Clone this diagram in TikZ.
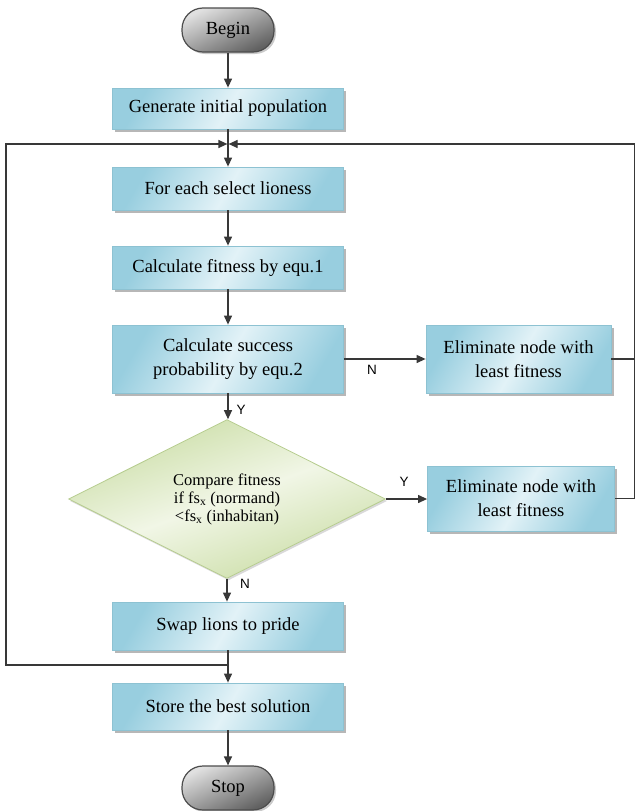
\documentclass[tikz,border=0pt]{standalone}
\usepackage{fontspec}
\setmainfont{Liberation Serif}
\newfontfamily\boxfont{Liberation Serif}
\newfontfamily\labelfont{Liberation Sans}
\usetikzlibrary{shapes.geometric,shadows,arrows.meta}
\definecolor{boxA}{HTML}{98CEDF}
\definecolor{boxB}{HTML}{E2F2F7}
\definecolor{boxLine}{HTML}{8DC2D2}
\definecolor{grnA}{HTML}{CADDA5}
\definecolor{grnB}{HTML}{F1F6E6}
\definecolor{grnLine}{HTML}{B7CD90}
\definecolor{lineC}{HTML}{383838}
\tikzset{
  procbox/.style={rectangle, draw=boxLine, line width=0.8pt,
    top color=boxA, bottom color=boxA, middle color=boxB, shading angle=60,
    drop shadow={shadow xshift=2.5pt, shadow yshift=-2.5pt, fill=black!40, opacity=0.7},
    align=center, inner sep=0pt, font=\boxfont\fontsize{18.5}{24}\selectfont,
    minimum width=231pt},
  termbox/.style={rectangle, rounded corners=21pt, draw=black!70, line width=1.2pt,
    top color=black!12, bottom color=black!62, shading angle=25,
    drop shadow={shadow xshift=2pt, shadow yshift=-2pt, fill=black!35, opacity=0.6},
    inner sep=0pt, minimum width=92pt, minimum height=44pt,
    font=\boxfont\fontsize{18.5}{22}\selectfont},
  decision/.style={diamond, draw=grnLine, line width=0.8pt,
    top color=grnA, bottom color=grnA, middle color=grnB, shading angle=20,
    drop shadow={shadow xshift=1.5pt, shadow yshift=-2pt, fill=black!25, opacity=0.6},
    inner sep=0pt, minimum width=317pt, minimum height=142pt, align=center,
    font=\boxfont\fontsize{16.5}{18}\selectfont},
  ln/.style={draw=lineC, line width=1.2pt},
  arr/.style={ln, -{Triangle[length=9pt,width=8pt]}},
  yn/.style={font=\labelfont\fontsize{13.5}{14}\selectfont, inner sep=0pt}
}
\begin{document}
\begin{tikzpicture}[x=1pt,y=-1pt]
\useasboundingbox (0,0) rectangle (636,811);

\node[termbox] (begin) at (228,30) {Begin};
\node[procbox, minimum height=41pt] (gen) at (228,108.5) {Generate initial population};
\coordinate (j) at (228,144);
\node[procbox, minimum height=43pt] (each) at (228,188.5) {For each select lioness};
\node[procbox, minimum height=43pt] (fit) at (228,267.5) {Calculate fitness by equ.1};
\node[procbox, minimum height=68pt] (succ) at (228,359) {Calculate success\\probability by equ.2};
\node[procbox, minimum width=185pt, minimum height=68pt] (el1) at (518.5,359) {Eliminate node with\\least fitness};
\node[decision] (cmp) at (227,499) {Compare fitness\\if fs\textsubscript{x} (normand)\\<fs\textsubscript{x} (inhabitan)};
\node[procbox, minimum width=187pt, minimum height=65pt] (el2) at (521,498.5) {Eliminate node with\\least fitness};
\node[procbox, minimum height=48pt] (swap) at (228,626) {Swap lions to pride};
\coordinate (j2) at (228,665);
\node[procbox, minimum height=47pt] (store) at (228,706.5) {Store the best solution};
\node[termbox] (stop) at (228,788) {Stop};

\coordinate (lc) at (6,665);
\coordinate (lt) at (6,144);
\coordinate (rt) at (634.5,144);

\draw[arr] (begin) -- (gen);
\draw[arr] (gen) -- (each);
\draw[arr] (each) -- (fit);
\draw[arr] (fit) -- (succ);
\draw[arr] (succ.south) -- (succ.south |- cmp.north);
\draw[arr] (succ.east) -- (el1.west);
\draw[arr] (cmp.east) -- (cmp.east -| el2.west);
\draw[arr] (cmp.south) -- (cmp.south |- swap.north);
\draw[arr] (swap) -- (store);
\draw[arr] (store) -- (stop);

\draw[arr] (j2) -- (lc) -- (lt) -- ([xshift=-0.6pt]j);
\draw[ln] (el1.east) -- (el1.east -| rt);
\draw[arr] (el2.east) -- (el2.east -| rt) -- (rt) -- ([xshift=0.6pt]j);

\node[yn] (lY1) at (241,410) {Y};
\node[yn] (lN1) at (372,370) {N};
\node[yn] (lY2) at (404,482) {Y};
\node[yn] (lN2) at (245,584) {N};
\end{tikzpicture}
\end{document}
